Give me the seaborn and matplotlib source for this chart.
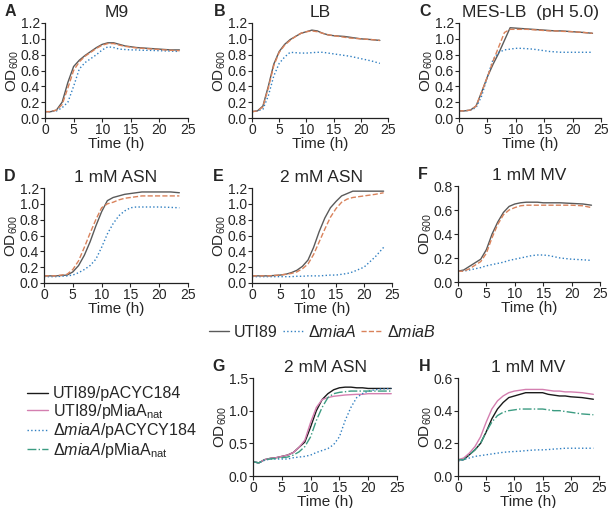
import matplotlib
matplotlib.use('Agg')
import matplotlib.pyplot as plt
import seaborn as sns
from matplotlib.lines import Line2D

# time points (h)
t = [0, 1, 2, 3, 4, 5, 6, 7, 8, 9, 10, 11, 12, 13, 14, 15, 16, 17, 18, 20, 22, 23.5]
t2 = [0, 1, 2, 3, 4, 5, 6, 7, 8, 9, 10, 11, 12, 13, 14, 15, 16, 17, 18, 19, 20, 22, 24]

# panel A, M9
a_wt = [0.08, 0.08, 0.10, 0.20, 0.45, 0.65, 0.73, 0.79, 0.84, 0.89, 0.93, 0.95, 0.95, 0.93, 0.91, 0.90, 0.89, 0.885, 0.88, 0.87, 0.86, 0.86]
a_miaA = [0.08, 0.08, 0.09, 0.13, 0.20, 0.40, 0.62, 0.70, 0.75, 0.80, 0.86, 0.90, 0.89, 0.87, 0.865, 0.86, 0.86, 0.855, 0.855, 0.85, 0.845, 0.84]
a_miaB = [0.08, 0.08, 0.10, 0.17, 0.38, 0.60, 0.71, 0.78, 0.83, 0.88, 0.92, 0.94, 0.94, 0.92, 0.905, 0.895, 0.885, 0.88, 0.875, 0.865, 0.855, 0.85]
# panel B, LB
b_wt = [0.08, 0.09, 0.15, 0.40, 0.68, 0.84, 0.93, 0.99, 1.03, 1.07, 1.09, 1.11, 1.10, 1.07, 1.05, 1.04, 1.035, 1.03, 1.02, 1.00, 0.99, 0.98]
b_miaA = [0.08, 0.09, 0.11, 0.28, 0.53, 0.69, 0.77, 0.83, 0.825, 0.82, 0.82, 0.825, 0.83, 0.83, 0.82, 0.81, 0.80, 0.79, 0.78, 0.75, 0.72, 0.69]
b_miaB = [0.08, 0.09, 0.14, 0.38, 0.66, 0.83, 0.92, 0.98, 1.03, 1.07, 1.09, 1.10, 1.09, 1.07, 1.05, 1.04, 1.03, 1.02, 1.01, 1.00, 0.99, 0.98]
# panel C, MES-LB pH 5
c_wt = [0.09, 0.09, 0.10, 0.15, 0.33, 0.52, 0.68, 0.82, 0.98, 1.14, 1.135, 1.13, 1.125, 1.12, 1.115, 1.11, 1.105, 1.10, 1.10, 1.09, 1.08, 1.07]
c_miaA = [0.09, 0.09, 0.10, 0.13, 0.28, 0.52, 0.74, 0.83, 0.86, 0.87, 0.88, 0.88, 0.875, 0.87, 0.86, 0.85, 0.84, 0.835, 0.83, 0.83, 0.83, 0.83]
c_miaB = [0.09, 0.09, 0.10, 0.15, 0.33, 0.52, 0.72, 0.90, 1.08, 1.12, 1.12, 1.12, 1.12, 1.115, 1.11, 1.105, 1.10, 1.10, 1.095, 1.09, 1.08, 1.07]
# panel D, 1 mM ASN
d_wt = [0.09, 0.09, 0.09, 0.095, 0.10, 0.14, 0.22, 0.35, 0.52, 0.72, 0.90, 1.04, 1.08, 1.10, 1.12, 1.13, 1.14, 1.15, 1.15, 1.15, 1.15, 1.14]
d_miaA = [0.08, 0.08, 0.08, 0.085, 0.09, 0.10, 0.13, 0.17, 0.22, 0.30, 0.45, 0.62, 0.75, 0.85, 0.91, 0.95, 0.96, 0.96, 0.96, 0.96, 0.955, 0.95]
d_miaB = [0.09, 0.09, 0.09, 0.10, 0.11, 0.17, 0.28, 0.45, 0.63, 0.80, 0.95, 1.00, 1.02, 1.05, 1.07, 1.08, 1.09, 1.10, 1.10, 1.10, 1.10, 1.10]
# panel E, 2 mM ASN
e_wt = [0.09, 0.09, 0.09, 0.09, 0.095, 0.10, 0.11, 0.13, 0.16, 0.21, 0.29, 0.45, 0.65, 0.82, 0.95, 1.03, 1.10, 1.13, 1.16, 1.16, 1.16, 1.16]
e_miaA = [0.08, 0.08, 0.08, 0.08, 0.08, 0.08, 0.08, 0.08, 0.085, 0.085, 0.09, 0.09, 0.09, 0.095, 0.10, 0.10, 0.11, 0.12, 0.14, 0.20, 0.33, 0.45]
e_miaB = [0.09, 0.09, 0.09, 0.09, 0.095, 0.10, 0.11, 0.12, 0.14, 0.18, 0.24, 0.36, 0.52, 0.68, 0.83, 0.94, 1.02, 1.06, 1.08, 1.10, 1.12, 1.14]
# panel F, 1 mM MV
f_wt = [0.09, 0.10, 0.13, 0.16, 0.19, 0.27, 0.40, 0.50, 0.58, 0.63, 0.65, 0.66, 0.665, 0.665, 0.665, 0.66, 0.66, 0.66, 0.66, 0.655, 0.65, 0.64]
f_miaA = [0.09, 0.09, 0.10, 0.11, 0.12, 0.135, 0.145, 0.155, 0.165, 0.18, 0.19, 0.20, 0.21, 0.22, 0.225, 0.225, 0.22, 0.21, 0.20, 0.19, 0.185, 0.18]
f_miaB = [0.09, 0.09, 0.11, 0.14, 0.17, 0.24, 0.37, 0.48, 0.56, 0.60, 0.62, 0.635, 0.64, 0.64, 0.64, 0.64, 0.64, 0.64, 0.64, 0.64, 0.635, 0.62]
# panel G, 2 mM ASN (complementation)
g_wt_vec = [0.22, 0.20, 0.25, 0.27, 0.28, 0.30, 0.32, 0.36, 0.44, 0.52, 0.75, 1.00, 1.17, 1.26, 1.32, 1.35, 1.36, 1.36, 1.35, 1.35, 1.34, 1.34, 1.34]
g_wt_mia = [0.22, 0.20, 0.25, 0.27, 0.28, 0.30, 0.32, 0.36, 0.44, 0.55, 0.82, 1.05, 1.17, 1.20, 1.22, 1.23, 1.24, 1.245, 1.25, 1.25, 1.26, 1.26, 1.26]
g_ko_vec = [0.22, 0.20, 0.24, 0.26, 0.26, 0.26, 0.26, 0.28, 0.29, 0.30, 0.32, 0.36, 0.39, 0.42, 0.48, 0.60, 0.85, 1.05, 1.20, 1.26, 1.30, 1.33, 1.34]
g_ko_mia = [0.22, 0.20, 0.25, 0.26, 0.27, 0.28, 0.29, 0.32, 0.37, 0.45, 0.60, 0.85, 1.05, 1.20, 1.26, 1.28, 1.29, 1.30, 1.30, 1.30, 1.30, 1.30, 1.30]
# panel H, 1 mM MV (complementation)
h_wt_vec = [0.10, 0.10, 0.13, 0.16, 0.20, 0.27, 0.35, 0.41, 0.45, 0.48, 0.49, 0.50, 0.51, 0.51, 0.51, 0.51, 0.50, 0.495, 0.49, 0.49, 0.485, 0.48, 0.47]
h_wt_mia = [0.10, 0.11, 0.14, 0.18, 0.24, 0.33, 0.41, 0.46, 0.49, 0.51, 0.52, 0.525, 0.53, 0.53, 0.53, 0.53, 0.525, 0.52, 0.52, 0.515, 0.515, 0.51, 0.50]
h_ko_vec = [0.09, 0.10, 0.11, 0.12, 0.125, 0.13, 0.135, 0.14, 0.145, 0.148, 0.15, 0.152, 0.155, 0.158, 0.16, 0.16, 0.162, 0.165, 0.167, 0.17, 0.17, 0.17, 0.17]
h_ko_mia = [0.10, 0.10, 0.13, 0.16, 0.20, 0.27, 0.33, 0.37, 0.39, 0.40, 0.405, 0.41, 0.41, 0.41, 0.41, 0.41, 0.405, 0.40, 0.40, 0.395, 0.39, 0.38, 0.375]

sns.set_style('ticks')
plt.rcParams['font.family'] = ['Liberation Sans', 'DejaVu Sans']
plt.rcParams['mathtext.fontset'] = 'custom'
plt.rcParams['mathtext.rm'] = 'Liberation Sans'
plt.rcParams['mathtext.it'] = 'Liberation Sans:italic'
plt.rcParams['mathtext.default'] = 'regular'

W, H = 614, 508
fig = plt.figure(figsize=(W / 100, H / 100), dpi=100)

GRAY, BLUE, ORANGE = '#5a5a5a', '#2f7fc1', '#d9825b'
BLACK, PINK, GREEN = '#1a1a1a', '#d47fb0', '#3c9c82'

styles_top = [(GRAY, '-'), (BLUE, ':'), (ORANGE, '--')]
styles_bot = [(BLACK, '-'), (PINK, '-'), (BLUE, ':'), (GREEN, '-.')]


def make_ax(x0, x1, ytop, ybot):
    return fig.add_axes([x0 / W, 1 - ybot / H, (x1 - x0) / W, (ybot - ytop) / H])


def style_ax(ax, ymax, ystep, title, letter):
    ax.set_xlim(0, 25)
    ax.set_ylim(0, ymax)
    ax.set_xticks(range(0, 26, 5))
    n = int(round(ymax / ystep))
    ax.set_yticks([ystep * i for i in range(n + 1)])
    ax.yaxis.set_major_formatter(plt.FormatStrFormatter('%.1f'))
    ax.tick_params(labelsize=10, length=3, width=0.8, pad=0.5)
    for s in ['left', 'bottom']:
        ax.spines[s].set_linewidth(0.9)
        ax.spines[s].set_color('#222222')
    sns.despine(ax=ax)
    ax.set_xlabel('Time (h)', fontsize=11, labelpad=0)
    ax.set_ylabel('OD$_{600}$', fontsize=11, labelpad=0)
    ax.set_title(title, fontsize=12.5, pad=4)
    ax.text(-0.28, 1.12, letter, transform=ax.transAxes, fontsize=11.5,
            fontweight='bold', va='center', ha='left')


def draw(ax, x, series, styles):
    for y, (c, ls) in zip(series, styles):
        sns.lineplot(x=x, y=y, ax=ax, color=c, linestyle=ls, lw=1.0)


panels = [
    ((45, 188, 23, 118), [a_wt, a_miaA, a_miaB], 1.2, 0.2, 'M9', 'A'),
    ((252, 388, 23, 118), [b_wt, b_miaA, b_miaB], 1.2, 0.2, 'LB', 'B'),
    ((459, 601, 23, 118), [c_wt, c_miaA, c_miaB], 1.2, 0.2, 'MES-LB  (pH 5.0)', 'C'),
    ((44, 188, 188, 283), [d_wt, d_miaA, d_miaB], 1.2, 0.2, '1 mM ASN', 'D'),
    ((252, 392, 188, 283), [e_wt, e_miaA, e_miaB], 1.2, 0.2, '2 mM ASN', 'E'),
    ((458, 600, 186, 282), [f_wt, f_miaA, f_miaB], 0.8, 0.2, '1 mM MV', 'F'),
]
for box, series, ymax, ystep, title, letter in panels:
    ax = make_ax(*box)
    draw(ax, t, series, styles_top)
    style_ax(ax, ymax, ystep, title, letter)

axg = make_ax(253, 397, 378, 476)
draw(axg, t2, [g_wt_vec, g_wt_mia, g_ko_vec, g_ko_mia], styles_bot)
style_ax(axg, 1.5, 0.5, '2 mM ASN', 'G')

axh = make_ax(458, 599, 378, 476)
draw(axh, t2, [h_wt_vec, h_wt_mia, h_ko_vec, h_ko_mia], styles_bot)
style_ax(axh, 0.6, 0.2, '1 mM MV', 'H')

# legends
top_labels = ['UTI89', 'Δ$\\mathit{miaA}$', 'Δ$\\mathit{miaB}$']
top_handles = [Line2D([], [], color=c, ls=ls, lw=1.0) for c, ls in styles_top]
fig.legend(top_handles, top_labels, loc='center', bbox_to_anchor=(322 / W, 1 - 332 / H),
           ncol=3, frameon=False, fontsize=11.5, handlelength=1.3, handletextpad=0.3,
           columnspacing=0.3, borderaxespad=0)

bot_labels = ['UTI89/pACYC184', 'UTI89/pMiaA$_{nat}$',
              'Δ$\\mathit{miaA}$/pACYCY184', 'Δ$\\mathit{miaA}$/pMiaA$_{nat}$']
bot_handles = [Line2D([], [], color=c, ls=ls, lw=1.0) for c, ls in styles_bot]
fig.legend(bot_handles, bot_labels, loc='upper left', bbox_to_anchor=(21 / W, 1 - 380 / H),
           frameon=False, fontsize=11.5, handlelength=1.3, handletextpad=0.3,
           labelspacing=0.03, borderaxespad=0)

fig.savefig('out.png', dpi=100)
